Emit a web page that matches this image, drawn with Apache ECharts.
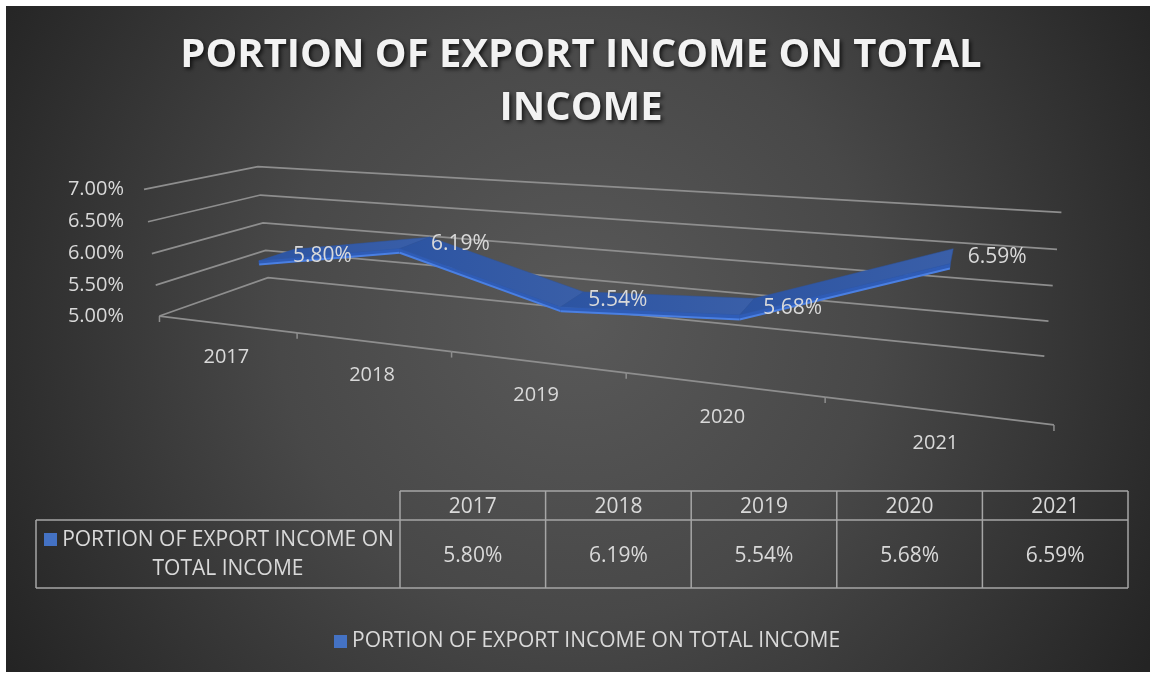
<!DOCTYPE html>
<html><head><meta charset="utf-8">
<script src="https://cdn.jsdelivr.net/npm/echarts@6/dist/echarts.min.js"></script>
<style>html,body{margin:0;padding:0;background:#fff;}#c{width:1153px;height:675px;}</style>
</head><body><div id="c"></div>
<script>
// ---------- data ----------
const titleText = 'PORTION OF EXPORT INCOME ON TOTAL\nINCOME';
const seriesName = 'PORTION OF EXPORT INCOME ON TOTAL INCOME';
const categories = ['2017', '2018', '2019', '2020', '2021'];
const values = [0.0580, 0.0619, 0.0554, 0.0568, 0.0659];
const yTicks = [0.05, 0.055, 0.06, 0.065, 0.07];
const yMin = 0.05, yMax = 0.07, yStep = 0.005;

// ---------- layout (3D box projection calibration: model X 0..N, Y 0..1, Z 0 front..1 back -> px) ----------
const calib = [
  [0,0,0,160,315],[0,0,1,267,278],[5,0,1,1044,356],[5,0,0,1054,424],
  [0,1,1,257,167],[5,1,1,1061,212],[0,1,0,143,189],
  [0,0.5,0,152,254],[0,0.5,1,263,223],[5,0.5,1,1053,286],
  [0,0.25,1,265,250],[5,0.25,1,1049,321],[0,0.75,1,263,195],[5,0.75,1,1057,249],
  [0,0.25,0,156,285],[0,0.75,0,148,222],
  [1,0,0,297,333],[2,0,0,452,352],[3,0,0,626,373],[4,0,0,825,398]
];
const zMid = 0.5, zHalf = 0.17, sideDY = 0.03;
const FONT = '"Open Sans", "Noto Sans", sans-serif';
const TXT = '#d9d9d9';
const GRIDC = '#8e8e8e';

function solveDLT(pts){
  const S = 100, A = [], b = [];
  pts.forEach(([X,Y,Z,u,v]) => {
    u /= S; v /= S;
    A.push([X,Y,Z,1,0,0,0,0,-u*X,-u*Y,-u*Z]); b.push(u);
    A.push([0,0,0,0,X,Y,Z,1,-v*X,-v*Y,-v*Z]); b.push(v);
  });
  const n = 11, M = [];
  for (let i = 0; i < n; i++) {
    const row = new Array(n+1).fill(0);
    for (let j = 0; j < n; j++) { let s = 0; for (let k = 0; k < A.length; k++) s += A[k][i]*A[k][j]; row[j] = s; }
    let s = 0; for (let k = 0; k < A.length; k++) s += A[k][i]*b[k]; row[n] = s;
    M.push(row);
  }
  for (let c = 0; c < n; c++) {
    let p = c; for (let r = c+1; r < n; r++) if (Math.abs(M[r][c]) > Math.abs(M[p][c])) p = r;
    const t = M[c]; M[c] = M[p]; M[p] = t;
    for (let r = 0; r < n; r++) { if (r === c) continue; const f = M[r][c]/M[c][c]; for (let k = c; k <= n; k++) M[r][k] -= f*M[c][k]; }
  }
  const x = M.map((row,i) => row[n]/row[i]);
  return (X,Y,Z) => { const w = x[8]*X + x[9]*Y + x[10]*Z + 1;
    return [S*(x[0]*X+x[1]*Y+x[2]*Z+x[3])/w, S*(x[4]*X+x[5]*Y+x[6]*Z+x[7])/w]; };
}
const project = solveDLT(calib);
const NX = categories.length;
function model(api, params, xv, yv){
  const p = api.coord([xv, yv]); const cs = params.coordSys;
  return [(p[0]-cs.x)/cs.width*NX, (cs.y+cs.height-p[1])/cs.height];
}
const pct = v => (v*100).toFixed(2) + '%';

// ---------- table ----------
const tbl = {left:36, colStart:400, right:1128, top:491, mid:520, bottom:588};
const colW = (tbl.right - tbl.colStart)/categories.length;
const tableEls = [];
const L = (x1,y1,x2,y2) => tableEls.push({type:'line', shape:{x1,y1,x2,y2}, style:{stroke:'#a6a6a6', lineWidth:1.5}});
L(tbl.colStart, tbl.top, tbl.right, tbl.top);
L(tbl.left, tbl.mid, tbl.right, tbl.mid);
L(tbl.left, tbl.bottom, tbl.right, tbl.bottom);
L(tbl.left, tbl.mid, tbl.left, tbl.bottom);
for (let i = 0; i <= categories.length; i++) L(tbl.colStart + i*colW, tbl.top, tbl.colStart + i*colW, tbl.bottom);
categories.forEach((c,i) => {
  const cx = tbl.colStart + (i+0.5)*colW;
  tableEls.push({type:'text', x:cx, y:(tbl.top+tbl.mid)/2+2, style:{text:c, fill:TXT, font:'21px '+FONT, align:'center', verticalAlign:'middle'}});
  tableEls.push({type:'text', x:cx, y:(tbl.mid+tbl.bottom)/2+2.5, style:{text:pct(values[i]), fill:TXT, font:'21px '+FONT, align:'center', verticalAlign:'middle'}});
});
const words = seriesName.split(' ');
tableEls.push({type:'rect', shape:{x:44, y:533, width:13, height:13}, style:{fill:'#4472c4'}});
tableEls.push({type:'text', x:228, y:(tbl.mid+tbl.bottom)/2+1, style:{
  text: words.slice(0,5).join(' ') + '\n' + words.slice(5).join(' '),
  fill:TXT, font:'21px '+FONT, align:'center', verticalAlign:'middle', lineHeight:29}});

const option = {
  backgroundColor: '#ffffff',
  animation: false,
  color: ['#4472c4'],
  grid: {left:0, top:0, width:500, height:100, show:false},
  xAxis: {type:'value', min:0, max:NX, show:false},
  yAxis: {type:'value', min:yMin, max:yMax, interval:yStep, show:false},
  legend: {
    data:[seriesName], left:334, top:631, padding:0, icon:'rect', itemWidth:13, itemHeight:13,
    textStyle:{color:TXT, fontSize:21, fontFamily:FONT}
  },
  graphic: [
    {type:'rect', z:-10, silent:true, shape:{x:6, y:6, width:1144, height:666},
     style:{fill:{type:'radial', x:0.5, y:0.47, r:1.0, colorStops:[
       {offset:0, color:'#595959'}, {offset:0.45, color:'#484848'}, {offset:1, color:'#242424'}]}}},
    {type:'text', x:581, y:82, silent:true, style:{text:titleText, fill:'#f2f2f2',
      font:'bold 40px '+FONT, align:'center', verticalAlign:'middle', lineHeight:53,
      textShadowColor:'rgba(0,0,0,0.75)', textShadowBlur:4, textShadowOffsetX:2, textShadowOffsetY:2}},
    {type:'group', silent:true, children: tableEls}
  ],
  series: [
    { // walls gridlines + value labels
      type:'custom', name:'_grid', silent:true, clip:false, z:1,
      data: yTicks.map(v => [0, v]), encode:{x:0, y:1},
      renderItem(params, api){
        const [, Y] = model(api, params, api.value(0), api.value(1));
        const a = project(0,Y,0), b = project(0,Y,1), c = project(NX,Y,1);
        return {type:'group', children:[
          {type:'polyline', shape:{points:[a,b,c]}, style:{stroke:GRIDC, lineWidth:1.75, fill:null}},
          {type:'text', x:124, y:a[1], style:{text:pct(api.value(1)), fill:TXT, font:'20px '+FONT, align:'right', verticalAlign:'middle'}}
        ]};
      }
    },
    { // category axis on floor front edge
      type:'custom', name:'_cat', silent:true, clip:false, z:1,
      data: categories.map((c,i) => [i+0.5, yMin]), encode:{x:0, y:1},
      renderItem(params, api){
        const i = params.dataIndex;
        const [X] = model(api, params, api.value(0), api.value(1));
        const l = project(X-0.5,0,0), r = project(X+0.5,0,0), m = project(X,0,0);
        const ch = [
          {type:'line', shape:{x1:l[0], y1:l[1], x2:r[0], y2:r[1]}, style:{stroke:GRIDC, lineWidth:1.75}},
          {type:'line', shape:{x1:r[0], y1:r[1], x2:r[0], y2:r[1]+6}, style:{stroke:GRIDC, lineWidth:1.5}},
          {type:'text', x:m[0], y:m[1]+33, style:{text:categories[i], fill:TXT, font:'20px '+FONT, align:'center', verticalAlign:'middle'}}
        ];
        if (i === 0) ch.push({type:'line', shape:{x1:l[0], y1:l[1], x2:l[0], y2:l[1]+6}, style:{stroke:GRIDC, lineWidth:1.5}});
        return {type:'group', children: ch};
      }
    },
    { // 3D ribbon line
      type:'custom', name: seriesName, clip:false, z:3,
      itemStyle:{color:'#4472c4'},
      data: values.map((v,i) => [i+0.5, v]), encode:{x:0, y:1},
      renderItem(params, api){
        const i = params.dataIndex;
        const [X, Y] = model(api, params, api.value(0), api.value(1));
        const ch = [];
        if (i < NX-1) {
          const [X2, Y2] = model(api, params, i+1.5, values[i+1]);
          const f1 = project(X, Y, zMid-zHalf), b1 = project(X, Y, zMid+zHalf);
          const f2 = project(X2, Y2, zMid-zHalf), b2 = project(X2, Y2, zMid+zHalf);
          const s1 = project(X, Y-sideDY, zMid-zHalf), s2 = project(X2, Y2-sideDY, zMid-zHalf);
          ch.push({type:'polygon', shape:{points:[f1,f2,b2,b1]}, style:{
            fill:{type:'linear', x:0, y:0, x2:1, y2:0, colorStops:[{offset:0, color:'#2c54a2'},{offset:1, color:'#3a5fa8'}]},
            stroke:'#2c54a2', lineWidth:0.5}});
          ch.push({type:'polygon', shape:{points:[f1,f2,s2,s1]}, style:{fill:'#2f5cb6', stroke:'#2f5cb6', lineWidth:0.5}});
          ch.push({type:'polyline', shape:{points:[s1,s2]}, style:{stroke:'#4a7fe2', lineWidth:2, fill:null}});
        }
        const m = project(X, Y, zMid);
        ch.push({type:'text', z2:100, x:m[0]+16, y:m[1]+1, style:{text:pct(api.value(1)), fill:TXT, font:'21px '+FONT, align:'left', verticalAlign:'middle'}});
        return {type:'group', children: ch};
      }
    }
  ]
};
const chart = echarts.init(document.getElementById('c'));
chart.setOption(option);
</script>
</body></html>
